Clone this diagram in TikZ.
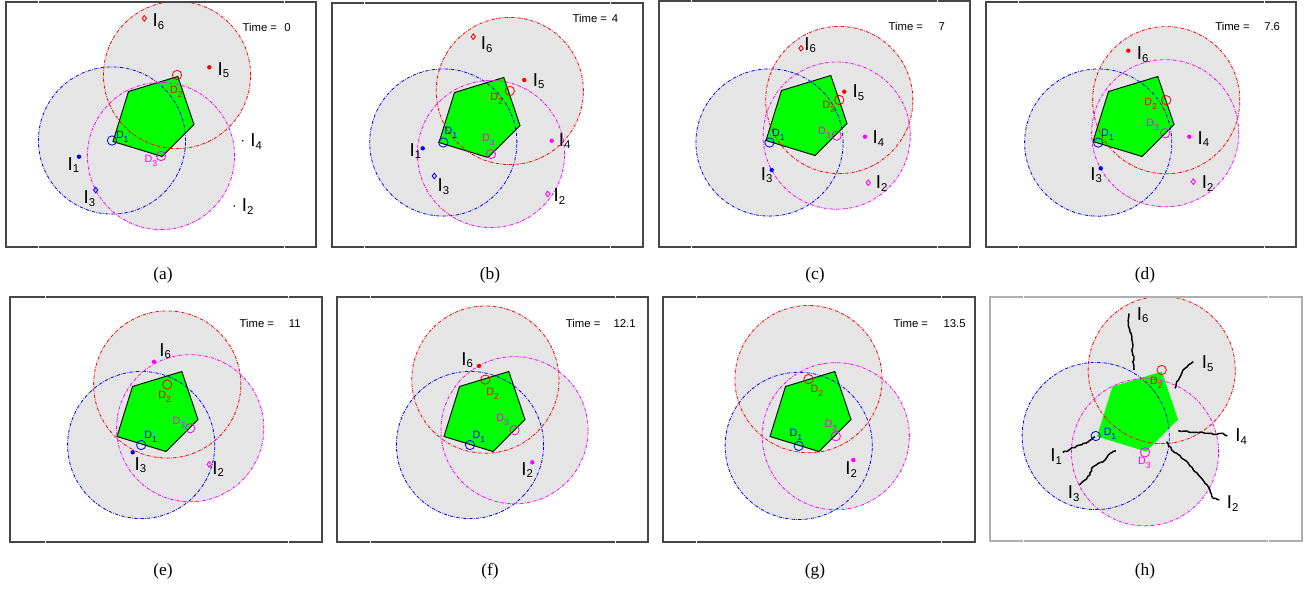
\documentclass[tikz,border=0pt]{standalone}
\usepackage{fontspec}
\setmainfont{Liberation Serif}
\setsansfont{Liberation Sans}
\usetikzlibrary{shapes.geometric,decorations.pathmorphing}
\definecolor{kred}{RGB}{255,0,0}
\definecolor{kblue}{RGB}{0,0,255}
\definecolor{kmag}{RGB}{255,0,255}
\definecolor{kgreen}{RGB}{0,255,0}
\definecolor{kfill}{RGB}{229,229,229}
\definecolor{kframe}{RGB}{70,70,70}
\definecolor{kframeh}{RGB}{175,175,175}
\newcommand\Rr{55.2pt}
\newcommand\Ilab[1]{\sffamily\fontsize{14}{14}\selectfont I\raisebox{-2.2pt}{\fontsize{8.5}{8.5}\selectfont #1}}
\newcommand\Dlab[1]{\sffamily\fontsize{8}{8}\selectfont D\raisebox{-3pt}{\fontsize{6.5}{6.5}\selectfont #1}}
\tikzset{
  panelframe/.style={draw=kframe, line width=1.1pt},
  panelframeh/.style={draw=kframeh, line width=0.8pt},
  tickgap/.style={draw=white, line width=0.6pt},
  rng/.style={dash pattern=on 2.4pt off 1pt on 0.5pt off 1pt, line width=0.6pt},
  rngfill/.style={fill=kfill},
  pent/.pic={\path[pic actions] (122.5,89.5) -- (171.8,74.5) -- (188,122.5) -- (156,154.5) -- (107,139.5) -- cycle;},
  dmark/.style={circle, draw, line width=0.6pt, minimum size=7pt, inner sep=0pt},
  idot/.style={circle, fill, minimum size=3.3pt, inner sep=0pt},
  tdot/.style={circle, fill=black, minimum size=1.3pt, inner sep=0pt},
  idia/.style={diamond, draw, line width=0.65pt, minimum width=3.5pt, minimum height=4.5pt, inner sep=0pt},
  ilab/.style={anchor=base west, inner sep=0pt, xshift=-1.2pt},
  dlab/.style={inner sep=0pt},
  tlab/.style={anchor=west, inner sep=0pt, font=\sffamily\fontsize{8.5}{8.5}\selectfont},
  captext/.style={inner sep=0pt, font=\fontsize{13}{13}\selectfont},
  track/.style={line width=1.1pt, line join=round, decorate, decoration={random steps, segment length=1.8pt, amplitude=0.6pt}}
}
\begin{document}
\begin{tikzpicture}[x=0.75pt,y=-0.75pt]
\useasboundingbox (0,0) rectangle (1310,590);
\fill[white] (0,0) rectangle (1310,590);
% ---------------- (a)
\begin{scope}[shift={(6,2)}]
 \coordinate (a-s1) at (106,138.5);
 \coordinate (a-s2) at (171,73);
 \coordinate (a-s3) at (155,154);
 \fill[rngfill] (a-s1) circle[radius=\Rr] (a-s2) circle[radius=\Rr] (a-s3) circle[radius=\Rr];
 \pic[fill=kgreen, draw=black, line width=0.7pt] (a-p) at (0,0) {pent};
 \draw[rng, kblue] (a-s1) circle[radius=\Rr];
 \draw[rng, kred] (a-s2) circle[radius=\Rr];
 \draw[rng, kmag] (a-s3) circle[radius=\Rr];
 \node[dmark, draw=kblue] (a-D1) at (a-s1) {};
 \node[dmark, draw=kred] (a-D2) at (a-s2) {};
 \node[dmark, draw=kmag] (a-D3) at (a-s3) {};
 \node[dlab, text=kblue] (a-L1) at (116.3,134.7) {\Dlab{1}};
 \node[dlab, text=kred] (a-L2) at (170.3,89.7) {\Dlab{2}};
 \node[dlab, text=kmag] (a-L3) at (145,159) {\Dlab{3}};
 \node[idia, draw=kred] (a-I6) at (138.3,16.3) {};
 \node[ilab] (a-I6l) at (148,24.7) {\Ilab{6}};
 \node[idot, fill=kred] (a-I5) at (203.3,65.3) {};
 \node[ilab] (a-I5l) at (213,73) {\Ilab{5}};
 \node[tdot] (a-I4) at (236.7,138.7) {};
 \node[ilab] (a-I4l) at (245.7,144.7) {\Ilab{4}};
 \node[tdot] (a-I2) at (228.3,204) {};
 \node[ilab] (a-I2l) at (237.3,209.7) {\Ilab{2}};
 \node[idot, fill=kblue] (a-I1) at (73,154.7) {};
 \node[ilab] (a-I1l) at (63,168) {\Ilab{1}};
 \node[idia, draw=kblue] (a-I3) at (89.7,188) {};
 \node[ilab] (a-I3l) at (79,201.3) {\Ilab{3}};
 \node[tlab] (a-t) at (236.3,25.3) {Time =};
 \node[tlab] (a-tv) at (278,25.3) {0};
 \draw[panelframe] (0,0) rectangle (310,245);
 \foreach \xx in {32,278} {\draw[tickgap] (\xx,-1.5) -- (\xx,1.5); \draw[tickgap] (\xx,243.5) -- (\xx,246.5);}
\end{scope}
\node[captext] (a-cap) at (163,275) {(a)};
% ---------------- (b)
\begin{scope}[shift={(332,3)}]
 \coordinate (b-s1) at (111.3,139.5);
 \coordinate (b-s2) at (177.8,88);
 \coordinate (b-s3) at (159,151);
 \fill[rngfill] (b-s1) circle[radius=\Rr] (b-s2) circle[radius=\Rr] (b-s3) circle[radius=\Rr];
 \pic[fill=kgreen, draw=black, line width=0.7pt] (b-p) at (0,0) {pent};
 \draw[rng, kblue] (b-s1) circle[radius=\Rr];
 \draw[rng, kred] (b-s2) circle[radius=\Rr];
 \draw[rng, kmag] (b-s3) circle[radius=\Rr];
 \node[dmark, draw=kblue] (b-D1) at (b-s1) {};
 \node[dmark, draw=kred] (b-D2) at (b-s2) {};
 \node[dmark, draw=kmag] (b-D3) at (b-s3) {};
 \node[dlab, text=kblue] (b-L1) at (119,130.3) {\Dlab{1}};
 \node[dlab, text=kred] (b-L2) at (164.7,96) {\Dlab{2}};
 \node[dlab, text=kmag] (b-L3) at (156.3,137) {\Dlab{3}};
 \node[idia, draw=kred] (b-I6) at (141.3,33.7) {};
 \node[ilab] (b-I6l) at (150.3,46.3) {\Ilab{6}};
 \node[idot, fill=kred] (b-I5) at (192.3,77) {};
 \node[ilab] (b-I5l) at (202.3,83) {\Ilab{5}};
 \node[idot, fill=kmag] (b-I4) at (219.7,137.7) {};
 \node[ilab] (b-I4l) at (228.3,143) {\Ilab{4}};
 \node[idia, draw=kmag] (b-I2) at (215.7,191) {};
 \node[ilab] (b-I2l) at (223,198.7) {\Ilab{2}};
 \node[idot, fill=kblue] (b-I1) at (90.7,145.3) {};
 \node[ilab] (b-I1l) at (79,153) {\Ilab{1}};
 \node[idia, draw=kblue] (b-I3) at (102.3,173) {};
 \node[ilab] (b-I3l) at (107,188.7) {\Ilab{3}};
 \node[tlab] (b-t) at (240.3,15.3) {Time =};
 \node[tlab] (b-tv) at (279.5,15.3) {4};
 \draw[panelframe] (0,0) rectangle (311,244);
 \foreach \xx in {32,278} {\draw[tickgap] (\xx,-1.5) -- (\xx,1.5); \draw[tickgap] (\xx,242.5) -- (\xx,245.5);}
\end{scope}
\node[captext] (b-cap) at (490,275) {(b)};
% ---------------- (c)
\begin{scope}[shift={(659,1)}]
 \coordinate (c-s1) at (110.5,141.5);
 \coordinate (c-s2) at (180.3,99);
 \coordinate (c-s3) at (177.7,134.6);
 \fill[rngfill] (c-s1) circle[radius=\Rr] (c-s2) circle[radius=\Rr] (c-s3) circle[radius=\Rr];
 \pic[fill=kgreen, draw=black, line width=0.7pt] (c-p) at (0,0) {pent};
 \draw[rng, kblue] (c-s1) circle[radius=\Rr];
 \draw[rng, kred] (c-s2) circle[radius=\Rr];
 \draw[rng, kmag] (c-s3) circle[radius=\Rr];
 \node[dmark, draw=kblue] (c-D1) at (c-s1) {};
 \node[dmark, draw=kred] (c-D2) at (c-s2) {};
 \node[dmark, draw=kmag] (c-D3) at (c-s3) {};
 \node[dlab, text=kblue] (c-L1) at (119.3,134) {\Dlab{1}};
 \node[dlab, text=kred] (c-L2) at (170,105.7) {\Dlab{2}};
 \node[dlab, text=kmag] (c-L3) at (165.3,131.7) {\Dlab{3}};
 \node[idia, draw=kred] (c-I6) at (142,47.3) {};
 \node[ilab] (c-I6l) at (146.7,49) {\Ilab{6}};
 \node[idot, fill=kred] (c-I5) at (185.3,90.7) {};
 \node[ilab] (c-I5l) at (195,96.3) {\Ilab{5}};
 \node[idot, fill=kmag] (c-I4) at (206,135.7) {};
 \node[ilab] (c-I4l) at (215,142.3) {\Ilab{4}};
 \node[idia, draw=kmag] (c-I2) at (209.3,181.7) {};
 \node[ilab] (c-I2l) at (218.3,187.3) {\Ilab{2}};
 \node[idot, fill=kblue] (c-I3) at (112.7,169) {};
 \node[ilab] (c-I3l) at (103.3,179) {\Ilab{3}};
 \node[tlab] (c-t) at (229.3,25.7) {Time =};
 \node[tlab] (c-tv) at (279.3,25.7) {7};
 \draw[panelframe] (0,0) rectangle (311,246);
 \foreach \xx in {32,278} {\draw[tickgap] (\xx,-1.5) -- (\xx,1.5); \draw[tickgap] (\xx,244.5) -- (\xx,247.5);}
\end{scope}
\node[captext] (c-cap) at (815,275) {(c)};
% ---------------- (d)
\begin{scope}[shift={(986,2)}]
 \coordinate (d-s1) at (112.2,140.6);
 \coordinate (d-s2) at (180.2,98.2);
 \coordinate (d-s3) at (179.2,131.2);
 \fill[rngfill] (d-s1) circle[radius=\Rr] (d-s2) circle[radius=\Rr] (d-s3) circle[radius=\Rr];
 \pic[fill=kgreen, draw=black, line width=0.7pt] (d-p) at (0,0) {pent};
 \draw[rng, kblue] (d-s1) circle[radius=\Rr];
 \draw[rng, kred] (d-s2) circle[radius=\Rr];
 \draw[rng, kmag] (d-s3) circle[radius=\Rr];
 \node[dmark, draw=kblue] (d-D1) at (d-s1) {};
 \node[dmark, draw=kred] (d-D2) at (d-s2) {};
 \node[dmark, draw=kmag] (d-D3) at (d-s3) {};
 \node[dlab, text=kblue] (d-L1) at (121.3,133) {\Dlab{1}};
 \node[dlab, text=kred] (d-L2) at (164.7,102) {\Dlab{2}};
 \node[dlab, text=kmag] (d-L3) at (166.7,123) {\Dlab{3}};
 \node[idot, fill=kred] (d-I6) at (142.3,48.7) {};
 \node[ilab] (d-I6l) at (152.3,57.3) {\Ilab{6}};
 \node[idot, fill=kmag] (d-I4) at (203.3,134.7) {};
 \node[ilab] (d-I4l) at (213,142) {\Ilab{4}};
 \node[idia, draw=kmag] (d-I2) at (207.3,179.7) {};
 \node[ilab] (d-I2l) at (217.3,186.3) {\Ilab{2}};
 \node[idot, fill=kblue] (d-I3) at (114.7,166.3) {};
 \node[ilab] (d-I3l) at (105.7,178) {\Ilab{3}};
 \node[tlab] (d-t) at (229,24.7) {Time =};
 \node[tlab] (d-tv) at (278,24.7) {7.6};
 \draw[panelframe] (0,0) rectangle (310,245);
 \foreach \xx in {32,278} {\draw[tickgap] (\xx,-1.5) -- (\xx,1.5); \draw[tickgap] (\xx,243.5) -- (\xx,246.5);}
\end{scope}
\node[captext] (d-cap) at (1145,275) {(d)};
% ---------------- (e)
\begin{scope}[shift={(10,297)}]
 \coordinate (e-s1) at (131.2,148);
 \coordinate (e-s2) at (157.2,87.5);
 \coordinate (e-s3) at (180.2,131.2);
 \fill[rngfill] (e-s1) circle[radius=\Rr] (e-s2) circle[radius=\Rr] (e-s3) circle[radius=\Rr];
 \pic[fill=kgreen, draw=black, line width=0.7pt] (e-p) at (0,0) {pent};
 \draw[rng, kblue] (e-s1) circle[radius=\Rr];
 \draw[rng, kred] (e-s2) circle[radius=\Rr];
 \draw[rng, kmag] (e-s3) circle[radius=\Rr];
 \node[dmark, draw=kblue] (e-D1) at (e-s1) {};
 \node[dmark, draw=kred] (e-D2) at (e-s2) {};
 \node[dmark, draw=kmag] (e-D3) at (e-s3) {};
 \node[dlab, text=kblue] (e-L1) at (140.7,140.3) {\Dlab{1}};
 \node[dlab, text=kred] (e-L2) at (154.7,99.7) {\Dlab{2}};
 \node[dlab, text=kmag] (e-L3) at (169,125.7) {\Dlab{3}};
 \node[idot, fill=kmag] (e-I6) at (144,64.7) {};
 \node[ilab] (e-I6l) at (150.7,59) {\Ilab{6}};
 \node[idot, fill=kblue] (e-I3) at (122.7,155.3) {};
 \node[ilab] (e-I3l) at (126,173) {\Ilab{3}};
 \node[idia, draw=kmag] (e-I2) at (199.3,167.3) {};
 \node[ilab] (e-I2l) at (203.7,177) {\Ilab{2}};
 \node[tlab] (e-t) at (229.3,26.3) {Time =};
 \node[tlab] (e-tv) at (278.7,26.3) {11};
 \draw[panelframe] (0,0) rectangle (312,245);
 \foreach \xx in {35,278} {\draw[tickgap] (\xx,-1.5) -- (\xx,1.5); \draw[tickgap] (\xx,243.5) -- (\xx,246.5);}
\end{scope}
\node[captext] (e-cap) at (163,571) {(e)};
% ---------------- (f)
\begin{scope}[shift={(337,297)}]
 \coordinate (f-s1) at (133,148);
 \coordinate (f-s2) at (148.4,82.6);
 \coordinate (f-s3) at (177.5,133.2);
 \fill[rngfill] (f-s1) circle[radius=\Rr] (f-s2) circle[radius=\Rr] (f-s3) circle[radius=\Rr];
 \pic[fill=kgreen, draw=black, line width=0.7pt] (f-p) at (0,0) {pent};
 \draw[rng, kblue] (f-s1) circle[radius=\Rr];
 \draw[rng, kred] (f-s2) circle[radius=\Rr];
 \draw[rng, kmag] (f-s3) circle[radius=\Rr];
 \node[dmark, draw=kblue] (f-D1) at (f-s1) {};
 \node[dmark, draw=kred] (f-D2) at (f-s2) {};
 \node[dmark, draw=kmag] (f-D3) at (f-s3) {};
 \node[dlab, text=kblue] (f-L1) at (142,140.3) {\Dlab{1}};
 \node[dlab, text=kred] (f-L2) at (155.7,97) {\Dlab{2}};
 \node[dlab, text=kmag] (f-L3) at (165.7,123) {\Dlab{3}};
 \node[idot, fill=kred] (f-I6) at (142,69) {};
 \node[ilab] (f-I6l) at (125.7,68) {\Ilab{6}};
 \node[idot, fill=kmag] (f-I2) at (195.3,165.3) {};
 \node[ilab] (f-I2l) at (185.7,178) {\Ilab{2}};
 \node[tlab] (f-t) at (228.7,26.3) {Time =};
 \node[tlab] (f-tv) at (276.3,26.3) {12.1};
 \draw[panelframe] (0,0) rectangle (311,245);
 \foreach \xx in {33,278} {\draw[tickgap] (\xx,-1.5) -- (\xx,1.5); \draw[tickgap] (\xx,243.5) -- (\xx,246.5);}
\end{scope}
\node[captext] (f-cap) at (490,571) {(f)};
% ---------------- (g)
\begin{scope}[shift={(663,297)}]
 \coordinate (g-s1) at (135.7,148.9);
 \coordinate (g-s2) at (145.5,82.1);
 \coordinate (g-s3) at (172.8,139.2);
 \fill[rngfill] (g-s1) circle[radius=\Rr] (g-s2) circle[radius=\Rr] (g-s3) circle[radius=\Rr];
 \pic[fill=kgreen, draw=black, line width=0.7pt] (g-p) at (0,0) {pent};
 \draw[rng, kblue] (g-s1) circle[radius=\Rr];
 \draw[rng, kred] (g-s2) circle[radius=\Rr];
 \draw[rng, kmag] (g-s3) circle[radius=\Rr];
 \node[dmark, draw=kblue] (g-D1) at (g-s1) {};
 \node[dmark, draw=kred] (g-D2) at (g-s2) {};
 \node[dmark, draw=kmag] (g-D3) at (g-s3) {};
 \node[dlab, text=kblue] (g-L1) at (133,138) {\Dlab{1}};
 \node[dlab, text=kred] (g-L2) at (154,93.7) {\Dlab{2}};
 \node[dlab, text=kmag] (g-L3) at (168,128.7) {\Dlab{3}};
 \node[idot, fill=kmag] (g-I2) at (190.3,163) {};
 \node[ilab] (g-I2l) at (183.7,177.3) {\Ilab{2}};
 \node[tlab] (g-t) at (230.3,26.3) {Time =};
 \node[tlab] (g-tv) at (280.3,26.3) {13.5};
 \draw[panelframe] (0,0) rectangle (312,245);
 \foreach \xx in {33,278} {\draw[tickgap] (\xx,-1.5) -- (\xx,1.5); \draw[tickgap] (\xx,243.5) -- (\xx,246.5);}
\end{scope}
\node[captext] (g-cap) at (815,571) {(g)};
% ---------------- (h)
\begin{scope}[shift={(990,297)}]
 \coordinate (h-s1) at (105.7,139);
 \coordinate (h-s2) at (171.7,73);
 \coordinate (h-s3) at (155,155.3);
 \fill[rngfill] (h-s1) circle[radius=\Rr] (h-s2) circle[radius=\Rr] (h-s3) circle[radius=\Rr];
 \pic[fill=kgreen] (h-p) at (0,0) {pent};
 \draw[rng, kblue] (h-s1) circle[radius=\Rr];
 \draw[rng, kred] (h-s2) circle[radius=\Rr];
 \draw[rng, kmag] (h-s3) circle[radius=\Rr];
 \pgfmathsetseed{11}
 \draw[track] (139,16.3) -- (138.3,26.3) -- (140,34.7) -- (141.7,41.3) -- (142.7,46.3) -- (141.7,53) -- (144,59.7) -- (143.3,66.3) -- (144.3,73);
 \draw[track] (203.3,64.7) -- (198.3,68) -- (195,71.3) -- (191.7,76.3) -- (189.3,81.3) -- (186.7,84.7) -- (185,91.3);
 \draw[track] (237.3,139) -- (231.7,136.3) -- (226.7,137.3) -- (220,136.3) -- (213.3,135.7) -- (206.7,135.3) -- (198.3,134.7) -- (188.3,133.7);
 \draw[track] (229.3,203) -- (223.3,201.3) -- (220,193) -- (215,186.3) -- (210,179.7) -- (205,174.7) -- (198.3,166.3) -- (191.7,161.3) -- (186.7,156.3) -- (181.7,153) -- (176.7,144.7);
 \draw[track] (72.7,155.3) -- (80,152.3) -- (86.7,149) -- (93.3,146.3) -- (98.3,144.7) -- (101.7,142.3) -- (105,139.7);
 \draw[track] (89.3,188) -- (95,183) -- (100,178) -- (101.7,171.3) -- (108.3,166.3) -- (115,163) -- (118.3,158) -- (121.7,155.7) -- (126,153.7);
 \node[dmark, draw=kblue] (h-D1) at (h-s1) {};
 \node[dmark, draw=kred] (h-D2) at (h-s2) {};
 \node[dmark, draw=kmag] (h-D3) at (h-s3) {};
 \node[dlab, text=kblue] (h-L1) at (120,137) {\Dlab{1}};
 \node[dlab, text=kred] (h-L2) at (166.3,86.3) {\Dlab{2}};
 \node[dlab, text=kmag] (h-L3) at (154.3,165.7) {\Dlab{3}};
 \node[ilab] (h-I6l) at (148.3,23) {\Ilab{6}};
 \node[ilab] (h-I5l) at (213.3,71.3) {\Ilab{5}};
 \node[ilab] (h-I4l) at (246.7,144.7) {\Ilab{4}};
 \node[ilab] (h-I2l) at (238.3,211.3) {\Ilab{2}};
 \node[ilab] (h-I1l) at (61.7,164.7) {\Ilab{1}};
 \node[ilab] (h-I3l) at (79.3,201.3) {\Ilab{3}};
 \draw[panelframeh] (0,0) rectangle (312,244);
 \foreach \xx in {33,278} {\draw[tickgap] (\xx,-1.5) -- (\xx,1.5); \draw[tickgap] (\xx,242.5) -- (\xx,245.5);}
\end{scope}
\node[captext] (h-cap) at (1145,571) {(h)};
\end{tikzpicture}
\end{document}
